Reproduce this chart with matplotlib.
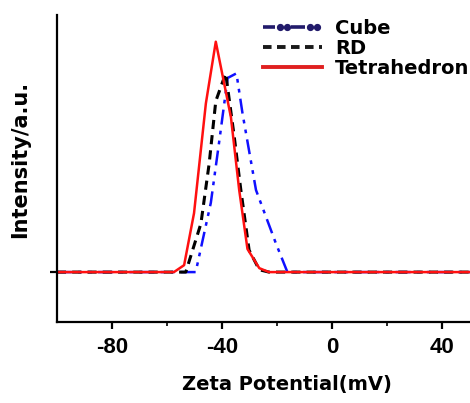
import matplotlib
matplotlib.use("Agg")
import matplotlib.pyplot as plt
from matplotlib.lines import Line2D
from matplotlib.legend_handler import HandlerBase

plt.rcParams['font.family'] = ['DejaVu Sans']
plt.rcParams['font.weight'] = 'bold'
plt.rcParams['axes.unicode_minus'] = False

# zeta potential (mV) and intensity (a.u.)
cube_x = [-100, -49.6, -44.1, -41, -38, -34.8, -32.6, -27.7, -20.5, -16.3, 50]
cube_y = [0, 0, 30, 57, 84, 86, 68.7, 35.5, 12.5, 0, 0]

rd_x = [-100, -53.2, -47.7, -44.7, -42.3, -38.7, -35.6, -33.2, -30.2, -26.5, -23, 50]
rd_y = [0, 0, 21, 47, 74, 86, 58.6, 35.5, 9.5, 1, 0, 0]

tet_x = [-100, -57.5, -53.8, -50.2, -45.9, -42.3, -36.8, -33.8, -30.8, -26.5, -23, 50]
tet_y = [0, 0, 3, 25.5, 73, 99.7, 67, 35.5, 10, 1.7, 0, 0]

labels = ['Cube', 'RD', 'Tetrahedron']


# legend sample for Cube: dash, dot, dot, dash, dot, dot
class CubeHandler(HandlerBase):
    def create_artists(self, legend, orig_handle, xdescent, ydescent,
                       width, height, fontsize, trans):
        y = height / 2 - ydescent
        arts = []
        for a, b in [(0, 0.21), (0.48, 0.72)]:
            ln = Line2D([a * width - xdescent, b * width - xdescent], [y, y],
                        color='#221b6b', lw=2.6, solid_capstyle='butt')
            ln.set_transform(trans)
            arts.append(ln)
        for p in [0.29, 0.4, 0.8, 0.93]:
            dot = Line2D([p * width - xdescent], [y], color='#221b6b', marker='o',
                         markersize=4.2, linestyle='none')
            dot.set_transform(trans)
            arts.append(dot)
        return arts


fig = plt.figure(figsize=(4.7, 4.03), dpi=100)
ax = fig.add_axes([0.121, 0.201, 0.879, 0.762])

ax.plot(cube_x, cube_y, color='#1010ff', lw=1.8, dashes=(6, 2.5, 1.5, 2.5, 1.5, 2.5))
ax.plot(rd_x, rd_y, color='black', lw=2.2, dashes=(3, 2))
ax.plot(tet_x, tet_y, color='#ff1010', lw=1.8)

cube_h = Line2D([], [], color='#221b6b')
rd_h = Line2D([], [], color='#1a1a1a', lw=2.8, dashes=(2.2, 1.4))
tet_h = Line2D([], [], color='#e02020', lw=2.8)
leg = ax.legend([cube_h, rd_h, tet_h], labels, loc='upper right',
                bbox_to_anchor=(1.027, 1.025),
                frameon=False, fontsize=14, handlelength=3.0, handletextpad=0.7,
                labelspacing=0.05, borderaxespad=0.2,
                handler_map={cube_h: CubeHandler()})

ax.set_xlim(-100, 50)
ax.set_ylim(-21.6, 111.3)
ax.set_xticks([-80, -40, 0, 40])
ax.set_xticks([-60, -20, 20], minor=True)
ax.set_xticklabels(['-80', '-40', '0', '40'], family='Liberation Sans',
                   fontweight='bold', fontsize=16)
ax.set_yticks([0])
ax.set_yticklabels([''])

for s in ['top', 'right']:
    ax.spines[s].set_visible(False)
for s in ['left', 'bottom']:
    ax.spines[s].set_linewidth(1.6)

ax.tick_params(axis='x', which='major', direction='out', length=5, width=1.6, pad=6)
ax.tick_params(axis='x', which='minor', direction='out', length=3, width=1.2)
ax.tick_params(axis='y', which='major', direction='out', length=5, width=1.6)

ax.set_xlabel('Zeta Potential(mV)', fontsize=14, fontweight='bold', va='center')
ax.xaxis.set_label_coords(0.557, -0.205)
ax.set_ylabel('Intensity/a.u.', fontsize=15, fontweight='bold', va='center')
ax.yaxis.set_label_coords(-0.09, 0.528)

fig.savefig('out.png', dpi=100)
